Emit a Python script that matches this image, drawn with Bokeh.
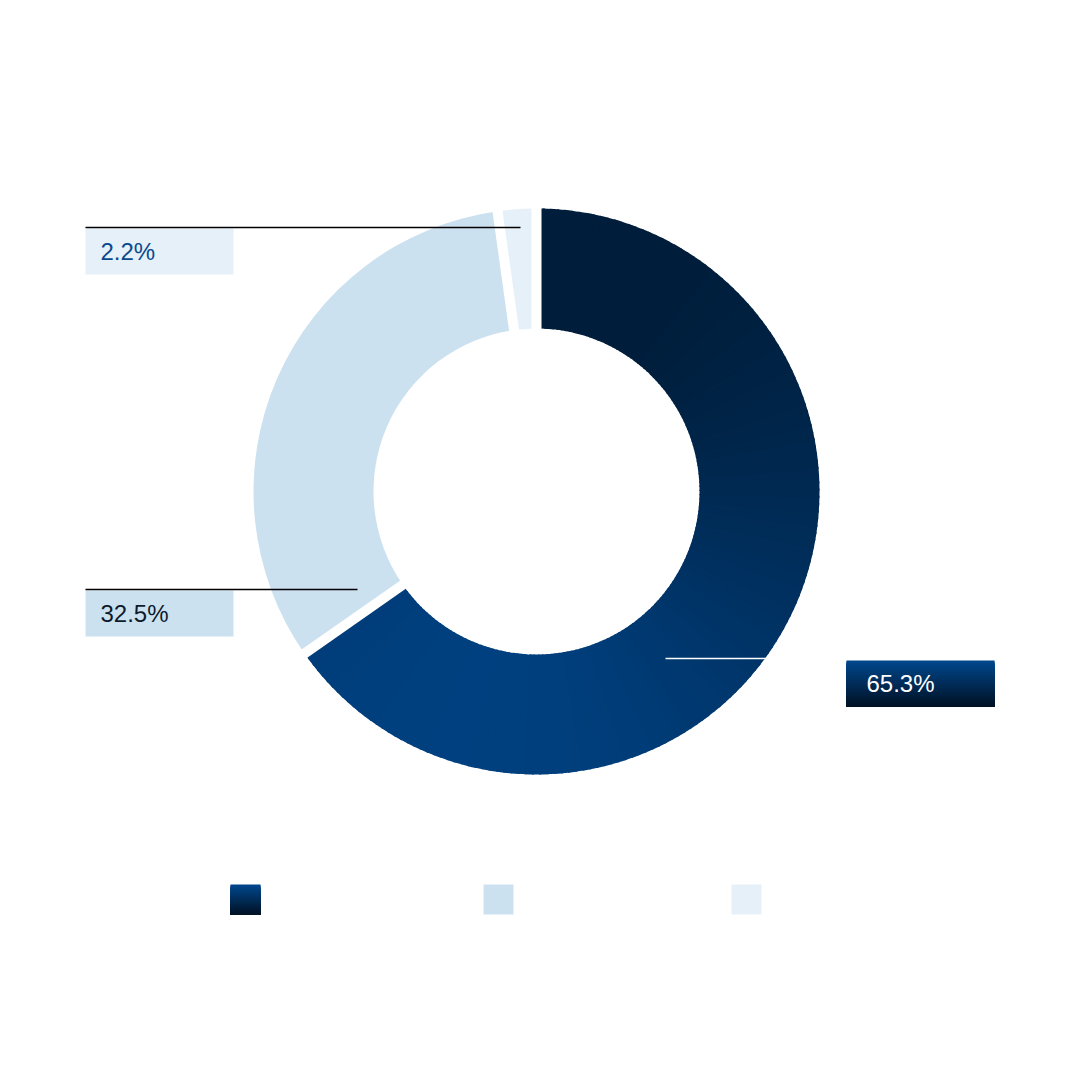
import numpy as np
from bokeh.plotting import figure
from bokeh.models import Range1d
from bokeh.embed import file_html
from bokeh.resources import INLINE
from bokeh.core.properties import value

# ---- data ----
categories = ["A", "B", "C"]
shares = [65.3, 32.5, 2.2]
labels = ["65.3%", "32.5%", "2.2%"]
slice_colors = ["gradient", "#cce1f0", "#e5f0f8"]

# ---- layout (screen pixel coordinates) ----
W = 1064
def Y(y):  # screen y -> data y
    return W - y

CX, CY = 536, 491
R_OUT, R_IN = 283, 163
GAP = 10

DARK_TOP = np.array([0x00, 0x17, 0x2e])
DARK_BOT = np.array([0x00, 0x46, 0x8b])
BOX_TOP = np.array([0x00, 0x47, 0x8d])
BOX_BOT = np.array([0x00, 0x12, 0x25])

def hexcol(c):
    c = np.clip(np.round(c), 0, 255).astype(int)
    return "#%02x%02x%02x" % tuple(c)

def grad_at(x, y, p0=(640, 205), p1=(450, 775)):
    v = np.array(p1, float) - np.array(p0, float)
    t = np.dot(np.array([x, y], float) - np.array(p0, float), v) / np.dot(v, v)
    t = min(max(t, 0.0), 1.0)
    return hexcol(DARK_TOP + (DARK_BOT - DARK_TOP) * t)

p = figure(width=W, height=W, x_range=Range1d(0, W), y_range=Range1d(0, W),
           output_backend="svg", toolbar_location=None,
           x_axis_type=None, y_axis_type=None, min_border=0)
p.outline_line_color = None
p.grid.visible = False
p.background_fill_color = "white"
p.border_fill_color = "white"

# ---- donut slices ----
total = sum(shares)
cum = np.concatenate([[0], np.cumsum(shares)]) / total
bounds = [np.pi / 2 - 2 * np.pi * c for c in cum]  # clockwise from top

for i, col in enumerate(slice_colors):
    a0, a1 = bounds[i], bounds[i + 1]  # a0 > a1
    if col == "gradient":
        n = 160
        edges = np.linspace(a1, a0, n + 1)
        st, en, cs = [], [], []
        for k in range(n):
            s, e = edges[k], edges[k + 1]
            m = 0.5 * (s + e)
            rm = 0.5 * (R_IN + R_OUT)
            cs.append(grad_at(CX + rm * np.cos(m), CY - rm * np.sin(m)))
            st.append(s - 0.004)
            en.append(e + 0.004)
        p.annular_wedge(x=[CX] * n, y=[Y(CY)] * n, inner_radius=R_IN, outer_radius=R_OUT,
                        start_angle=st, end_angle=en, fill_color=cs, line_color=None,
                        direction="anticlock")
    else:
        p.annular_wedge(x=CX, y=Y(CY), inner_radius=R_IN, outer_radius=R_OUT,
                        start_angle=a1, end_angle=a0, fill_color=col, line_color=None,
                        direction="anticlock")

# white separators between slices
for a in bounds[:-1]:
    p.segment(x0=CX + (R_IN - 4) * np.cos(a), y0=Y(CY) + (R_IN - 4) * np.sin(a),
              x1=CX + (R_OUT + 4) * np.cos(a), y1=Y(CY) + (R_OUT + 4) * np.sin(a),
              line_color="white", line_width=GAP)

def vgrad_box(left, right, top, bottom):
    n = int(bottom - top)
    for k in range(n):
        t = k / (n - 1)
        c = hexcol(BOX_TOP + (BOX_BOT - BOX_TOP) * t)
        p.quad(left=left, right=right, top=Y(top + k), bottom=Y(bottom),
               fill_color=c, line_color=None)

# ---- labels with leader lines ----
FONT = value("Liberation Sans")

# 2.2 %
p.quad(left=85, right=233, top=Y(228), bottom=Y(274), fill_color="#e5f0f8", line_color=None)
p.segment(x0=85, y0=Y(227), x1=520, y1=Y(227), line_color="#000000", line_width=1.3)
p.text(x=[100], y=[Y(251)], text=[labels[2]], text_font=FONT, text_font_size="24px",
       text_color="#0a4a8c", text_baseline="middle", text_align="left")

# 32.5 %
p.quad(left=85, right=233, top=Y(590), bottom=Y(636), fill_color="#cce1f0", line_color=None)
p.segment(x0=85, y0=Y(589), x1=357, y1=Y(589), line_color="#000000", line_width=1.3)
p.text(x=[100], y=[Y(613)], text=[labels[1]], text_font=FONT, text_font_size="24px",
       text_color="#0e1b2c", text_baseline="middle", text_align="left")

# 65.3 % (vertical gradient box)
vgrad_box(846, 994, 660, 706)
p.segment(x0=665, y0=Y(658), x1=766, y1=Y(658), line_color="white", line_width=1.5)
p.text(x=[866], y=[Y(683)], text=[labels[0]], text_font=FONT, text_font_size="24px",
       text_color="white", text_baseline="middle", text_align="left")

# ---- legend squares ----
leg_x = [230, 483, 731]
lt, lb = 884, 914
for i, col in enumerate(slice_colors):
    if col == "gradient":
        vgrad_box(leg_x[i], leg_x[i] + 30, lt, lb)
    else:
        p.quad(left=leg_x[i], right=leg_x[i] + 30, top=Y(lt), bottom=Y(lb),
               fill_color=col, line_color=None)
    p.text(x=[leg_x[i] + 42], y=[Y(899)], text=[categories[i]], text_font=FONT,
           text_font_size="18px", text_color="white", text_baseline="middle")

open("out.html", "w").write(file_html(p, INLINE))
